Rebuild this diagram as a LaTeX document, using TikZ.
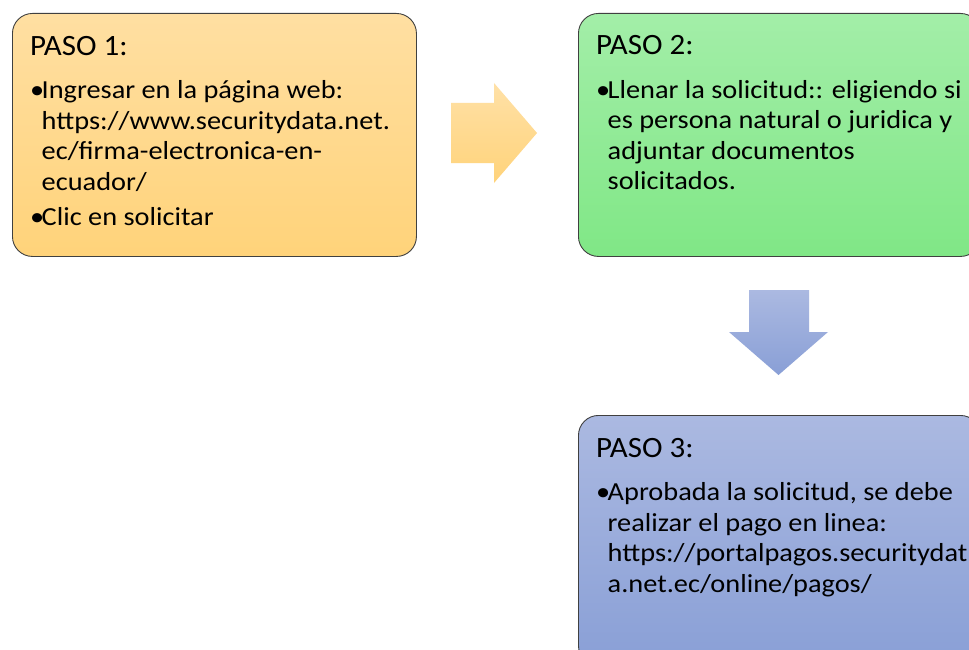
\documentclass[tikz,border=0pt]{standalone}
\usepackage{fontspec}
\setmainfont{Carlito}
\newfontfamily\fuentetitulo[FakeStretch=1.05]{Carlito}
\newfontfamily\fuentecuerpo[FakeStretch=1.09]{Carlito}
\usetikzlibrary{positioning}

\definecolor{naranjaA}{RGB}{255,223,162}
\definecolor{naranjaB}{RGB}{255,211,122}
\definecolor{verdeA}{RGB}{163,238,168}
\definecolor{verdeB}{RGB}{128,231,134}
\definecolor{azulA}{RGB}{171,185,225}
\definecolor{azulB}{RGB}{137,159,214}
\definecolor{borde}{RGB}{64,64,64}

\tikzset{
  paso/.style={draw=borde, line width=0.9pt, rounded corners=20pt, anchor=north west, inner sep=0pt},
  titulo/.style={anchor=base west, inner sep=0pt, font=\fuentetitulo\fontsize{29.5}{36}\selectfont},
  cuerpo/.style={anchor=north west, inner sep=0pt, align=left, font=\fuentecuerpo\fontsize{26}{30.5}\selectfont, execute at begin node=\strut},
}
\newcommand{\vin}{\makebox[11.5pt][l]{\textbullet}}
\newcommand{\sig}{\hspace*{11.5pt}}

\begin{document}
\begin{tikzpicture}[x=1pt,y=-1pt]
\useasboundingbox (0,0) rectangle (969,650);
\clip (0,0) rectangle (969,650);
\fill[white] (0,0) rectangle (969,650);

% cajas
\node[paso, top color=naranjaA, bottom color=naranjaB, minimum width=404pt, minimum height=243pt] (paso1) at (12,13) {};
\node[paso, top color=verdeA, bottom color=verdeB, minimum width=402pt, minimum height=243pt] (paso2) at (578,13) {};
\node[paso, top color=azulA, bottom color=azulB, minimum width=402pt, minimum height=250pt] (paso3) at (578,415) {};

% flechas
\shade[top color=naranjaA!95!white, bottom color=naranjaB] (451,103) -- (494,103) -- (494,83) -- (537,133) -- (494,183) -- (494,163) -- (451,163) -- cycle;
\shade[top color=azulA, bottom color=azulB] (749,290) -- (809,290) -- (809,332) -- (828,332) -- (778.5,375) -- (729,332) -- (749,332) -- cycle;

% textos
\node[titulo] (t1) at ([xshift=18pt,yshift=-43pt]paso1.north west) {PASO 1:};
\node[cuerpo] (c1) at ([yshift=-24.5pt]t1.base west) {\vin Ingresar en la página web:\\
  \sig https://www.securitydata.net.\\
  \sig ec/firma-electronica-en-\\
  \sig ecuador/\\[4.5pt]
  \vin Clic en solicitar};

\node[titulo] (t2) at ([xshift=18pt,yshift=-42pt]paso2.north west) {PASO 2:};
\node[cuerpo] (c2) at ([yshift=-25pt]t2.base west) {\vin Llenar la solicitud:: eligiendo si\\
  \sig es persona natural o juridica y\\
  \sig adjuntar documentos\\
  \sig solicitados.};

\node[titulo] (t3) at ([xshift=18pt,yshift=-42pt]paso3.north west) {PASO 3:};
\node[cuerpo] (c3) at ([yshift=-25.5pt]t3.base west) {\vin Aprobada la solicitud, se debe\\
  \sig realizar el pago en linea:\\
  \sig https://portalpagos.securitydat\\
  \sig a.net.ec/online/pagos/};
\end{tikzpicture}
\end{document}
